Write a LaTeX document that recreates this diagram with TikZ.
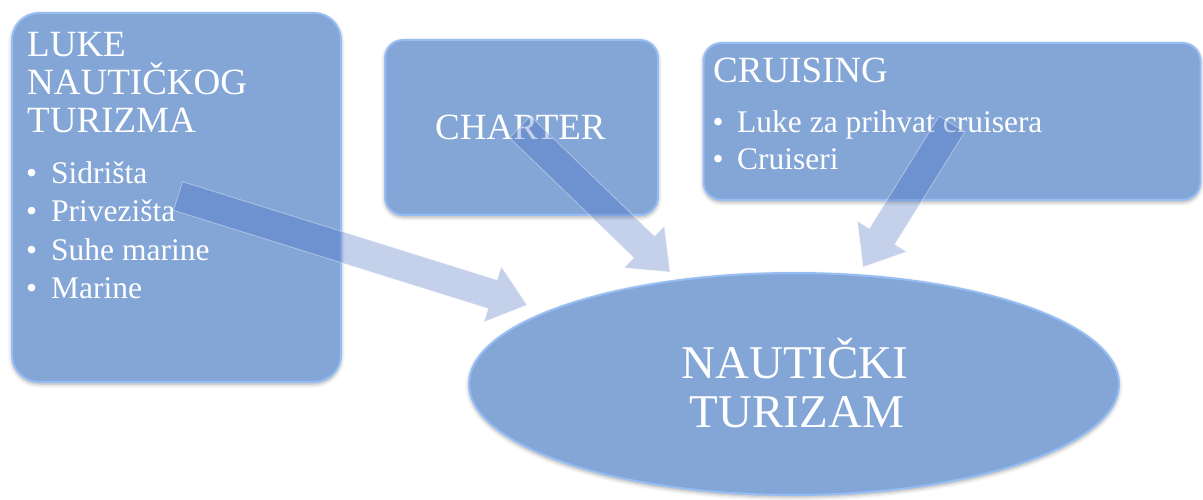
\documentclass[tikz,border=0pt]{standalone}
\usepackage{fontspec}
\setmainfont{Liberation Serif}
\usetikzlibrary{calc,shapes.geometric,shadows.blur}
\definecolor{boxfill}{RGB}{131,166,215}
\definecolor{boxrim}{RGB}{150,190,244}
\definecolor{arrowcol}{RGB}{64,102,189}
\tikzset{
 panel/.style={fill=boxfill, draw=boxrim, line width=2pt, inner sep=0pt,
   blur shadow={shadow xshift=0pt,shadow yshift=-2pt,shadow blur radius=4pt,shadow opacity=35}},
 ttl/.style={text=white, font=\fontsize{37}{38}\selectfont, anchor=base west, inner sep=0pt},
 itm/.style={text=white, font=\fontsize{31.5}{38}\selectfont, anchor=base west, inner sep=0pt},
 bigt/.style={text=white, font=\fontsize{47}{49}\selectfont, anchor=base, inner sep=0pt},
 barrow/.style={fill=arrowcol, fill opacity=0.3, draw=white, draw opacity=0.4, line width=0.8pt},
}
\newcommand\myblockarrow[2]{%
 \coordinate (hb) at ($(#2)!36pt!(#1)$);
 \path[barrow] ($(#1)!15pt!90:(#2)$) -- ($(hb)!15pt!90:(#2)$) -- ($(hb)!29pt!90:(#2)$)
   -- (#2) -- ($(hb)!29pt!-90:(#2)$) -- ($(hb)!15pt!-90:(#2)$) -- ($(#1)!15pt!-90:(#2)$) -- cycle;
}
\begin{document}
\begin{tikzpicture}[x=1pt,y=-1pt]
\useasboundingbox (0,0) rectangle (1203,500);
% boxes
\node[panel, rounded corners=27pt, minimum width=329pt, minimum height=369pt] (luke) at (176.5,197.5) {};
\node[panel, rounded corners=18pt, minimum width=273pt, minimum height=175pt] (charter) at (521.5,127.5) {};
\node[panel, rounded corners=18pt, minimum width=497pt, minimum height=157pt] (cruising) at (952,121.5) {};
% texts
\node[ttl] (l1) at (27,57) {LUKE};
\node[ttl] (l2) at (27,95) {NAUTIČKOG};
\node[ttl] (l3) at (27,133) {TURIZMA};
\node[itm] (b1) at (26,183) {•\hspace{14pt}Sidrišta};
\node[itm] (b2) at (26,222) {•\hspace{14pt}Privezišta};
\node[itm] (b3) at (26,260) {•\hspace{14pt}Suhe marine};
\node[itm] (b4) at (26,298) {•\hspace{14pt}Marine};
\node[ttl] (ch) at (435,140) {CHARTER};
\node[ttl] (cr) at (713,83) {CRUISING};
\node[itm] (c1) at (712.5,133) {•\hspace{13.5pt}Luke za prihvat cruisera};
\node[itm] (c2) at (712.5,170) {•\hspace{13.5pt}Cruiseri};
% arrows
\coordinate (t1) at (178,196);
\coordinate (p1) at (527,305);
\coordinate (t2) at (520,127);
\coordinate (p2) at (670,272);
\coordinate (t3) at (952,124);
\coordinate (p3) at (863,267);
\myblockarrow{t1}{p1}
\myblockarrow{t2}{p2}
\myblockarrow{t3}{p3}
% central ellipse
\node[panel, ellipse, minimum width=650pt, minimum height=222pt] (nt) at (794,384) {};
\node[bigt] (n1) at (795,378) {NAUTIČKI};
\node[bigt] (n2) at (797,427) {TURIZAM};
\end{tikzpicture}
\end{document}
